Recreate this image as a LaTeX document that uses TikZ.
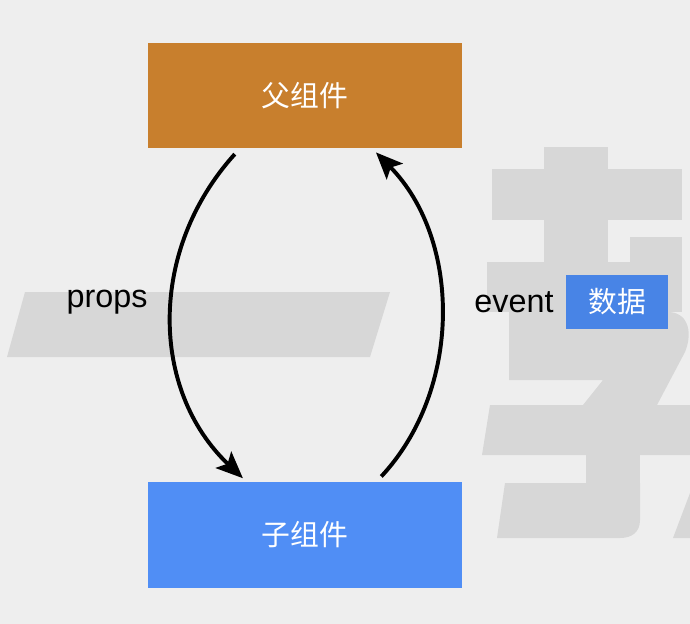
\documentclass[tikz,border=0pt]{standalone}
\usepackage{fontspec}
\setmainfont{Liberation Sans}
\newfontfamily\cjk{Noto Sans CJK SC}
\usetikzlibrary{positioning,arrows.meta}

\definecolor{bgcol}{HTML}{EEEEEE}
\definecolor{markcol}{HTML}{D7D7D7}
\definecolor{parentcol}{HTML}{C87F2D}
\definecolor{childcol}{HTML}{508EF5}
\definecolor{datacol}{HTML}{4884E6}

\begin{document}
\begin{tikzpicture}[
    x=0.025cm, y=-0.025cm,
    box/.style={rectangle, inner sep=0pt, minimum width=7.85cm, minimum height=2.63cm,
        text=white, font=\cjk\fontsize{20.5}{24}\selectfont},
    databox/.style={rectangle, inner sep=0pt, minimum width=2.55cm, minimum height=1.33cm,
        fill=datacol, text=white, font=\cjk\fontsize{20.5}{24}\selectfont},
    tag/.style={inner sep=0pt, font=\fontsize{23}{27}\selectfont},
    flow/.style={-{Stealth[length=19pt,width=16pt,inset=4pt]}, line width=2.8pt,
        shorten <=5.5pt, shorten >=4pt},
    wmark/.style={fill=markcol}
]

% background and watermark
\fill[bgcol] (0,0) rectangle (690,624);
\useasboundingbox (0,0) rectangle (690,624);
\fill[wmark] (25,292) -- (390,292) -- (370,357) -- (7,357) -- cycle;
\fill[wmark] (544,147) rectangle (608,262);
\fill[wmark] (492,169) rectangle (682,220);
\fill[wmark] (630,237) rectangle (682,262);
\fill[wmark] (487,262) rectangle (682,312);
\fill[wmark] (509,312) -- (670,312) .. controls (690,314) and (692,335) .. (685,352)
    -- (657,405) -- (583,405) -- (603,380) -- (509,380) -- cycle;
\fill[wmark] (490,405) -- (690,405) -- (690,455) -- (482,455) -- cycle;
\fill[wmark] (586,455) rectangle (640,486);
\fill[wmark] (505,483) -- (640,483) -- (640,520) .. controls (640,532) and (632,538) .. (620,538)
    -- (497,538) -- cycle;
\fill[wmark] (690,493) -- (690,538) -- (673,538) -- cycle;

% components
\node[box, fill=parentcol] (parent) at (305,95.5) {父组件};
\node[box, fill=childcol] (child) at (305,535) {子组件};

% labels
\node[tag] (props) at (107,302) {props};
\node[tag] (event) at (514,302) {event};
\node[databox, right=0.3cm of event] (data) {数据};

% data flow
\draw[flow] ([xshift=-1.625cm]parent.south) .. controls (148,250) and (150,390) .. ([xshift=-1.45cm]child.north);
\draw[flow] ([xshift=1.775cm]child.north) .. controls (462,390) and (462,240) .. ([xshift=1.675cm]parent.south);

\end{tikzpicture}
\end{document}
